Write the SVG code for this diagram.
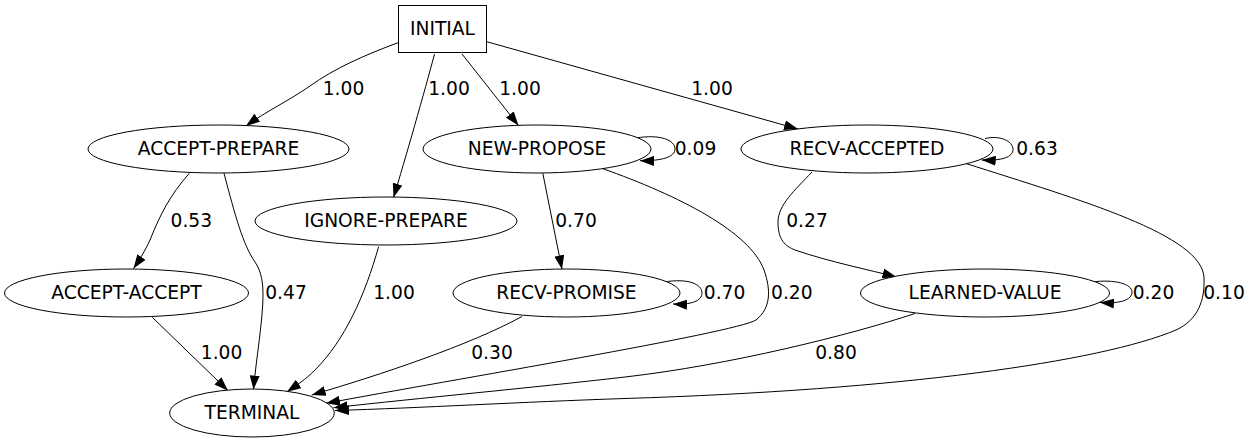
<svg xmlns="http://www.w3.org/2000/svg" width="1251" height="443" viewBox="0 0 1251 443">
<style>
.n{fill:#fff;stroke:#000;stroke-width:1}
.t{font-family:"DejaVu Sans",sans-serif;font-size:18.67px;text-anchor:middle;fill:#000}
.e{fill:none;stroke:#000;stroke-width:1;marker-end:url(#a)}
</style>
<defs>
<marker id="a" viewBox="0 0 14 10" refX="14" refY="5" markerWidth="14" markerHeight="10" markerUnits="userSpaceOnUse" orient="auto">
<path d="M0,0 L14,5 L0,10 Z" fill="#000"/>
</marker>
</defs>
<rect width="1251" height="443" fill="#fff"/>
<g id="connectors">
<path class="e" d="M398.5,42.5 C365,55 335,68 310,86 C290,100 265,112 246,126"/>
<path class="e" d="M434.5,54 C425,90 405,160 393.5,197.5"/>
<path class="e" d="M462,54 L518.5,125.5"/>
<path class="e" d="M486.7,41.7 L798,129"/>
<path class="e" d="M636,138 C660,134 675,140 675,149 C675,157 662,161 640,160.7"/>
<path class="e" d="M985,138.5 C1000,135 1013,141 1013,149.5 C1013,157 1002,161 981.7,160"/>
<path class="e" d="M664,282 C688,278 702,284 702,293 C702,301 691,305 673,304"/>
<path class="e" d="M1092,282 C1115,279 1132,284 1132,292 C1132,300 1120,304 1100,302.5"/>
<path class="e" d="M542.8,173.3 L562,269.3"/>
<path class="e" d="M812,172 C795,190 778,205 778,222 C778,240 785,246 795,250 C830,262 870,270 896.5,277"/>
<path class="e" d="M601.8,168.3 C680,196 750,232 764,270 C771,290 771,308 756,320 C735,333 450,380 326,403.3"/>
<path class="e" d="M522,316.5 C470,345 380,375 311.7,395"/>
<path class="e" d="M915,313.5 C850,335 730,365 625,377 C530,388 420,398 333.5,407.7"/>
<path class="e" d="M966,163.5 C1080,200 1203,235 1204,278 C1205,300 1198,320 1176,330 C1100,362 900,390 625,398.5 C520,402 420,408 335,410.5"/>
<path class="e" d="M189.3,173.3 C170,195 160,215 150,240 C144,253 138,262 133.5,268.5"/>
<path class="e" d="M224,173.3 C235,215 243,245 255,262 C262,272 263,285 263,295 C263,320 256,360 253.5,389.5"/>
<path class="e" d="M378.6,246.7 C365,295 345,340 315,370 C305,380 297,385 287,391.7"/>
<path class="e" d="M152.3,317.3 L228,390.7"/>
<g class="t">
<text x="343.5" y="95">1.00</text>
<text x="449" y="95">1.00</text>
<text x="520" y="95">1.00</text>
<text x="712" y="95">1.00</text>
<text x="695.5" y="154.5">0.09</text>
<text x="1037" y="154.5">0.63</text>
<text x="191.3" y="227">0.53</text>
<text x="576" y="227">0.70</text>
<text x="807" y="227">0.27</text>
<text x="286" y="299">0.47</text>
<text x="394" y="299">1.00</text>
<text x="724.6" y="299">0.70</text>
<text x="791.8" y="299">0.20</text>
<text x="1153.5" y="299">0.20</text>
<text x="1224" y="299">0.10</text>
<text x="221.6" y="359">1.00</text>
<text x="492" y="359">0.30</text>
<text x="836" y="359">0.80</text>
</g>
</g>
<g id="INITIAL"><rect class="n" x="398.5" y="5.5" width="88" height="47"/><text class="t" x="442.5" y="35">INITIAL</text></g>
<g id="ACCEPT-PREPARE"><ellipse class="n" cx="218.5" cy="149" rx="130.5" ry="24"/><text class="t" x="218.5" y="155">ACCEPT-PREPARE</text></g>
<g id="NEW-PROPOSE"><ellipse class="n" cx="537" cy="149" rx="114" ry="24"/><text class="t" x="537" y="155">NEW-PROPOSE</text></g>
<g id="RECV-ACCEPTED"><ellipse class="n" cx="867" cy="149" rx="126" ry="24"/><text class="t" x="867" y="155">RECV-ACCEPTED</text></g>
<g id="IGNORE-PREPARE"><ellipse class="n" cx="386" cy="221" rx="131" ry="24"/><text class="t" x="386" y="227">IGNORE-PREPARE</text></g>
<g id="ACCEPT-ACCEPT"><ellipse class="n" cx="126.5" cy="293" rx="122" ry="24"/><text class="t" x="126.5" y="299">ACCEPT-ACCEPT</text></g>
<g id="RECV-PROMISE"><ellipse class="n" cx="566.5" cy="293" rx="113.5" ry="24"/><text class="t" x="566.5" y="299">RECV-PROMISE</text></g>
<g id="LEARNED-VALUE"><ellipse class="n" cx="985" cy="293" rx="124.5" ry="24"/><text class="t" x="985" y="299">LEARNED-VALUE</text></g>
<g id="TERMINAL"><ellipse class="n" cx="252" cy="413" rx="82.3" ry="24"/><text class="t" x="252" y="419">TERMINAL</text></g>
</svg>
